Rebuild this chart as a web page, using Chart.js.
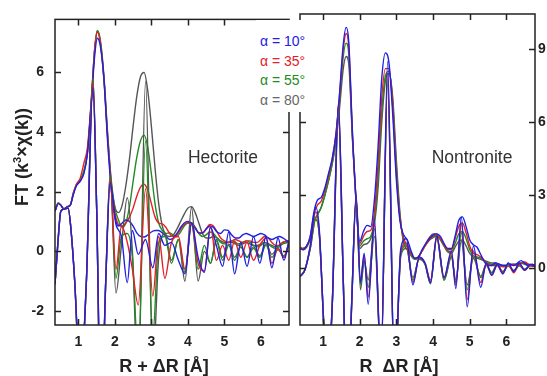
<!DOCTYPE html>
<html>
<head>
<meta charset="utf-8">
<script src="https://cdn.jsdelivr.net/npm/chart.js@4.4.1/dist/chart.umd.min.js"></script>
<style>
  body { margin: 0; background: #fff; width: 547px; height: 376px; overflow: hidden; position: relative;
         font-family: "Liberation Sans", Arial, sans-serif; }
  canvas { position: absolute; top: 0; }
  #cH { left: 0; }
  #cN { left: 295px; }
  .txt { position: absolute; white-space: nowrap; color: #222; }
  .axt { font-weight: bold; font-size: 18px; transform: translate(-50%, -50%); }
  #ytitle { left: 22px; top: 157px; transform: translate(-50%, -50%) rotate(-90deg); }
  #ytitle sup { font-size: 11px; vertical-align: 7px; }
  .name { font-size: 17.5px; transform: translate(-50%, -50%); color: #333; }
  #legend { position: absolute; left: 256px; top: 20px; width: 57px; height: 92px; background: #fff;
            padding-top: 12px; box-sizing: border-box; font-size: 14px; }
  #legend div { line-height: 19.5px; padding-left: 4px; }
</style>
</head>
<body>
<canvas id="cH" width="295" height="376"></canvas>
<canvas id="cN" width="252" height="376"></canvas>
<div class="txt axt" id="ytitle">FT (k<sup>3</sup>×χ(k))</div>
<div class="txt axt" style="left:164px;top:366px">R + ΔR [Å]</div>
<div class="txt axt" style="left:399px;top:366px">R&nbsp;&nbsp;ΔR [Å]</div>
<div class="txt name" style="left:223px;top:157px">Hectorite</div>
<div class="txt name" style="left:472px;top:157px">Nontronite</div>
<div id="legend">
  <div style="color:#2020e0">α = 10°</div>
  <div style="color:#e42026">α = 35°</div>
  <div style="color:#228b22">α = 55°</div>
  <div style="color:#666">α = 80°</div>
</div>
<script>
const angles = ['10', '35', '55', '80'];
const colors = ['#2020e0', '#e42026', '#228b22', '#555555'];

// Hectorite: |FT| on a common R grid
const hecR = [0.36, 0.45, 0.52, 0.6, 0.7, 0.78, 0.86, 0.95, 1.05, 1.15, 1.25, 1.35, 1.45, 1.52, 1.6, 1.7, 1.8, 1.9,
  2.0, 2.1, 2.2, 2.3, 2.4, 2.5, 2.6, 2.7, 2.8, 2.9, 3.0, 3.1, 3.2, 3.3, 3.4, 3.5, 3.6, 3.7, 3.8, 3.9,
  4.0, 4.1, 4.2, 4.3, 4.4, 4.5, 4.6, 4.7, 4.8, 4.9, 5.0, 5.1, 5.2, 5.3, 5.4, 5.5, 5.6, 5.7, 5.8, 5.9,
  6.0, 6.1, 6.2, 6.3, 6.4, 6.5, 6.6, 6.77];
const hecMag10 = [1.35, 1.6, 1.55, 1.42, 1.5, 1.55, 1.9, 2.2, 2.35, 2.6, 3.3, 4.9, 6.6, 7.15, 6.9, 5.8, 3.7, 2.1,
  1.15, 0.85, 0.95, 1.05, 1.0, 0.85, 0.62, 0.5, 0.48, 0.55, 0.65, 0.7, 0.7, 0.62, 0.5, 0.4, 0.45, 0.6, 0.8, 0.95,
  1.0, 0.95, 0.78, 0.62, 0.62, 0.75, 0.85, 0.8, 0.65, 0.6, 0.72, 0.7, 0.55, 0.45, 0.45, 0.55, 0.6, 0.55, 0.5, 0.55,
  0.6, 0.55, 0.45, 0.4, 0.45, 0.5, 0.45, 0.3];
const hecMag35 = [1.35, 1.6, 1.55, 1.42, 1.5, 1.55, 1.95, 2.25, 2.45, 2.95, 3.5, 5.0, 6.8, 7.35, 7.0, 5.75, 3.85, 2.25,
  1.3, 0.9, 0.85, 0.95, 1.15, 1.45, 1.85, 2.15, 2.25, 2.05, 1.6, 1.15, 0.95, 0.92, 0.8, 0.6, 0.5, 0.55, 0.75, 0.9,
  0.95, 0.95, 0.8, 0.62, 0.6, 0.75, 0.9, 0.85, 0.65, 0.45, 0.35, 0.3, 0.35, 0.4, 0.35, 0.3, 0.35, 0.35, 0.3, 0.3,
  0.4, 0.5, 0.45, 0.3, 0.2, 0.2, 0.3, 0.35];
const hecMag55 = [1.35, 1.62, 1.55, 1.42, 1.5, 1.55, 1.95, 2.25, 2.4, 2.7, 3.35, 5.0, 6.85, 7.4, 7.05, 5.8, 3.9, 2.3,
  1.45, 1.05, 0.8, 0.95, 1.5, 2.35, 3.15, 3.7, 3.9, 3.5, 2.6, 1.6, 0.95, 0.7, 0.6, 0.62, 0.55, 0.5, 0.65, 0.85,
  0.95, 0.95, 0.8, 0.6, 0.5, 0.55, 0.65, 0.6, 0.45, 0.3, 0.25, 0.3, 0.35, 0.3, 0.25, 0.3, 0.35, 0.3, 0.2, 0.15,
  0.2, 0.3, 0.25, 0.15, 0.1, 0.15, 0.25, 0.3];
const hecMag80 = [1.35, 1.62, 1.55, 1.42, 1.5, 1.55, 1.9, 2.25, 2.4, 2.65, 3.3, 4.9, 6.8, 7.4, 7.1, 5.9, 4.0, 2.4,
  1.5, 1.3, 1.55, 2.2, 3.1, 4.2, 5.2, 5.85, 6.0, 5.4, 4.2, 2.8, 1.6, 0.85, 0.55, 0.5, 0.55, 0.75, 1.0, 1.25,
  1.45, 1.5, 1.3, 0.95, 0.6, 0.45, 0.45, 0.5, 0.45, 0.35, 0.3, 0.3, 0.3, 0.25, 0.2, 0.25, 0.3, 0.25, 0.2, 0.2,
  0.25, 0.3, 0.25, 0.2, 0.15, 0.2, 0.3, 0.35];

// Hectorite: Im(FT), turning points
const hecImR = [0.36, 0.44, 0.52, 0.62, 0.72, 0.8, 0.9, 1.05, 1.22, 1.4,
  1.5, 1.62, 1.75, 1.87, 2.03, 2.18, 2.34, 2.48, 2.64, 2.84,
  3.04, 3.2, 3.37, 3.55, 3.74, 3.92, 4.1, 4.28, 4.45, 4.62,
  4.78, 4.95, 5.12, 5.28, 5.45, 5.62, 5.8, 5.97, 6.14, 6.3,
  6.47, 6.63, 6.77];
const hecIm10 = [-1.1, 0.3, 1.35, 1.42, 1.45, 0.7, -1.0, -4.2, -1.0, 5.5,
  1.5, -5.5, -1.0, 2.3, 0.9, 0.5, -1.05, 0.7, -0.1, 0.4,
  -0.55, 0.6, 0.2, 0.3, -0.3, -0.75, 0.95, -0.2, -0.7, 0.8,
  0.2, -0.5, 0.65, -0.75, 0.3, -0.5, 0.5, -0.4, 0.5, -0.55,
  0.45, -0.3, 0.35];
const hecIm35 = [-1.1, 0.3, 1.35, 1.42, 1.45, 0.7, -1.0, -4.4, -1.0, 5.7,
  1.5, -5.8, -1.0, 2.4, -0.6, 0.85, 0.3, -0.6, -1.8, 2.1,
  -1.5, 0.5, -0.9, 0.3, 0.5, -0.6, 0.9, -0.4, -0.65, 0.85,
  -0.3, 0.2, -0.3, 0.35, -0.2, 0.3, -0.3, 0.2, 0.45, -0.4,
  0.1, -0.2, 0.3];
const hecIm55 = [-1.1, 0.3, 1.35, 1.42, 1.45, 0.7, -1.0, -4.5, -1.0, 5.8,
  1.5, -6.0, -1.0, 2.5, -0.9, 0.5, 0.6, -0.2, -3.5, 3.7,
  -2.8, 0.3, 0.5, -0.4, 0.4, -0.7, 0.95, -0.6, 0.2, -0.4,
  0.35, -0.3, 0.2, -0.3, 0.15, -0.2, 0.1, -0.2, 0.2, -0.2,
  0.05, -0.15, 0.25];
const hecIm80 = [-1.1, 0.3, 1.35, 1.42, 1.45, 0.7, -1.0, -4.5, -1.0, 5.8,
  1.5, -6.0, -1.0, 2.6, -1.4, 0.2, 1.8, 0.0, -4.5, 5.7,
  -3.8, -0.2, 0.6, -0.3, 0.4, -1.0, 1.48, -1.0, 0.0, -0.4,
  0.4, -0.2, 0.25, -0.2, 0.15, -0.2, 0.15, -0.15, 0.25, -0.1,
  0.1, -0.2, 0.3];

// Nontronite: |FT|
const ntR = [0.37, 0.45, 0.55, 0.65, 0.75, 0.85, 0.95, 1.05, 1.15, 1.25, 1.35, 1.45, 1.55, 1.63, 1.7, 1.8, 1.9,
  2.0, 2.1, 2.2, 2.3, 2.4, 2.5, 2.6, 2.7, 2.8, 2.9, 3.0, 3.1, 3.2, 3.3, 3.4, 3.5, 3.6, 3.7, 3.8, 3.9,
  4.0, 4.1, 4.2, 4.3, 4.4, 4.5, 4.6, 4.7, 4.8, 4.9, 5.0, 5.1, 5.2, 5.3, 5.4, 5.5, 5.6, 5.7, 5.8, 5.9,
  6.0, 6.1, 6.2, 6.3, 6.4, 6.5, 6.6, 6.7, 6.78];
const ntMag10 = [0.8, 0.75, 0.9, 1.3, 2.3, 2.8, 2.9, 3.3, 3.9, 4.5, 5.5, 7.2, 9.2, 9.9, 9.3, 5.6, 2.8,
  1.1, 1.5, 1.75, 1.7, 2.8, 5.0, 7.8, 8.85, 8.4, 6.3, 3.6, 1.9, 1.35, 1.15, 0.7, 0.4, 0.45, 0.75, 1.0, 1.2,
  1.35, 1.4, 1.3, 1.0, 0.8, 0.8, 1.3, 1.95, 2.1, 1.7, 1.15, 0.95, 0.85, 0.55, 0.25, 0.1, 0.1, 0.2, 0.15, 0.1,
  0.1, 0.15, 0.1, 0.2, 0.3, 0.2, 0.1, 0.15, 0.1];
const ntMag35 = [0.85, 0.8, 0.9, 1.3, 2.2, 2.6, 2.75, 3.2, 3.8, 4.5, 5.5, 7.1, 9.0, 9.65, 9.1, 5.5, 2.7,
  1.0, 1.3, 1.5, 1.55, 2.3, 4.3, 7.0, 8.2, 8.2, 6.6, 3.8, 2.0, 1.2, 0.95, 0.6, 0.4, 0.45, 0.7, 0.95, 1.15,
  1.3, 1.35, 1.2, 0.95, 0.75, 0.75, 1.2, 1.7, 1.85, 1.45, 0.9, 0.6, 0.55, 0.45, 0.3, 0.15, 0.1, 0.1, 0.1, 0.05,
  0.05, 0.1, 0.15, 0.1, 0.2, 0.25, 0.15, 0.1, 0.1];
const ntMag55 = [0.85, 0.8, 0.9, 1.2, 1.9, 2.2, 2.5, 3.0, 3.6, 4.3, 5.3, 6.9, 8.7, 9.25, 8.8, 5.4, 2.7,
  0.9, 1.1, 1.2, 1.3, 2.0, 3.8, 6.4, 7.9, 8.1, 6.8, 4.1, 2.1, 1.1, 0.85, 0.55, 0.35, 0.45, 0.7, 0.95, 1.15,
  1.25, 1.3, 1.15, 0.9, 0.7, 0.65, 1.0, 1.4, 1.5, 1.2, 0.75, 0.5, 0.45, 0.4, 0.3, 0.2, 0.15, 0.15, 0.1, 0.1,
  0.1, 0.15, 0.1, 0.15, 0.2, 0.2, 0.15, 0.1, 0.1];
const ntMag80 = [0.8, 0.75, 0.85, 1.2, 1.9, 2.2, 2.5, 3.0, 3.6, 4.3, 5.2, 6.6, 8.2, 8.7, 8.4, 5.3, 2.7,
  0.8, 0.95, 1.0, 1.2, 1.8, 3.3, 6.0, 7.7, 8.0, 7.0, 4.4, 2.2, 1.0, 0.75, 0.5, 0.35, 0.45, 0.7, 1.0, 1.25,
  1.4, 1.4, 1.2, 0.9, 0.65, 0.6, 0.85, 1.1, 1.15, 0.9, 0.6, 0.45, 0.4, 0.35, 0.3, 0.25, 0.2, 0.2, 0.15, 0.1,
  0.1, 0.15, 0.15, 0.15, 0.2, 0.15, 0.1, 0.1, 0.1];

// Nontronite: Im(FT), turning points
const ntImR = [0.37, 0.5, 0.65, 0.8, 0.9, 1.0, 1.1, 1.25, 1.42, 1.55,
  1.66, 1.78, 1.9, 2.02, 2.12, 2.23, 2.4, 2.58, 2.76, 2.95,
  3.12, 3.27, 3.45, 3.62, 3.78, 3.93, 4.1, 4.3, 4.5, 4.62,
  4.77, 4.93, 5.1, 5.3, 5.45, 5.6, 5.75, 5.9, 6.05, 6.2,
  6.35, 6.5, 6.65, 6.78];
const ntIm10 = [-0.35, -0.1, 0.9, 2.5, 1.5, -1.8, -5.0, -1.5, 6.8, -0.5,
  -6.5, -1.5, 3.0, -0.6, 0.6, -1.5, 2.0, -4.0, 8.5, -5.0,
  0.8, 1.2, -0.7, 0.45, 0.2, -0.6, 1.3, -0.4, 0.7, -0.85,
  2.1, -1.6, 0.9, -0.8, 0.2, -0.3, 0.15, -0.25, 0.2, -0.15,
  0.2, -0.1, 0.15, 0.05];
const ntIm35 = [-0.35, -0.1, 0.9, 2.3, 1.4, -1.8, -5.0, -1.5, 6.7, -0.5,
  -6.3, -1.5, 2.9, -0.5, 0.5, -1.2, 1.8, -4.0, 8.0, -5.0,
  0.7, 1.0, -0.6, 0.4, 0.2, -0.5, 1.25, -0.4, 0.6, -0.7,
  1.8, -1.3, 0.7, -0.6, 0.15, -0.3, 0.1, -0.2, 0.15, -0.2,
  0.15, -0.1, 0.1, 0.05];
const ntIm55 = [-0.35, -0.1, 0.8, 2.0, 1.3, -1.7, -4.8, -1.5, 6.5, -0.5,
  -6.0, -1.4, 2.8, -0.7, 0.3, -0.8, 1.3, -3.8, 7.8, -4.8,
  0.6, 0.9, -0.5, 0.4, 0.15, -0.6, 1.2, -0.5, 0.5, -0.6,
  1.45, -0.9, 0.5, -0.4, 0.1, -0.2, 0.15, -0.2, 0.1, -0.15,
  0.1, -0.1, 0.1, 0.05];
const ntIm80 = [-0.35, -0.1, 0.8, 2.0, 1.3, -1.7, -4.8, -1.5, 6.2, -0.5,
  -5.8, -1.4, 2.8, -0.9, 0.3, -0.5, 1.6, -3.6, 7.6, -4.6,
  0.5, 0.8, -0.4, 0.35, 0.15, -0.65, 1.35, -0.5, 0.45, -0.5,
  1.1, -0.7, 0.4, -0.35, 0.15, -0.2, 0.15, -0.15, 0.1, -0.1,
  0.1, -0.05, 0.1, 0.05];

const hecMag = [hecMag10, hecMag35, hecMag55, hecMag80];
const hecIm = [hecIm10, hecIm35, hecIm55, hecIm80];
const ntMag = [ntMag10, ntMag35, ntMag55, ntMag80];
const ntIm = [ntIm10, ntIm35, ntIm55, ntIm80];

function line(xs, ys, color, label) {
  return {
    label: label,
    data: xs.map((x, i) => ({ x: x, y: ys[i] })),
    borderColor: color,
    borderWidth: 1.4,
    pointRadius: 0,
    cubicInterpolationMode: 'monotone',
    fill: false
  };
}

function buildSets(magR, mags, imR, ims) {
  const sets = [];
  angles.forEach((a, i) => sets.push(line(imR, ims[i], colors[i], 'Im ' + a)));
  angles.forEach((a, i) => sets.push(line(magR, mags[i], colors[i], '|FT| ' + a)));
  return sets;
}

// box around the plot with inward ticks on every side
const frame = {
  id: 'frame',
  afterDatasetsDraw(chart) {
    const { ctx, chartArea: a, scales } = chart;
    const t = 6;
    ctx.save();
    ctx.strokeStyle = '#222';
    ctx.lineWidth = 1.5;
    ctx.beginPath();
    scales.x.ticks.forEach(tk => {
      const p = Math.round(scales.x.getPixelForValue(tk.value)) + 0.5;
      ctx.moveTo(p, a.bottom); ctx.lineTo(p, a.bottom - t);
      ctx.moveTo(p, a.top); ctx.lineTo(p, a.top + t);
    });
    scales.y.ticks.forEach(tk => {
      const p = Math.round(scales.y.getPixelForValue(tk.value)) + 0.5;
      ctx.moveTo(a.left, p); ctx.lineTo(a.left + t, p);
      ctx.moveTo(a.right, p); ctx.lineTo(a.right - t, p);
    });
    ctx.stroke();
    ctx.strokeRect(a.left, a.top, a.right - a.left, a.bottom - a.top);
    ctx.restore();
  }
};

function makeChart(id, sets, xMin, xMax, yMin, yMax, yStep, yPos, yWidth, pad) {
  const tickFont = { family: '"Liberation Sans", Arial, sans-serif', size: 14, weight: 'bold' };
  return new Chart(document.getElementById(id), {
    type: 'line',
    data: { datasets: sets },
    options: {
      responsive: false,
      animation: false,
      events: [],
      layout: { padding: pad },
      plugins: { legend: { display: false }, tooltip: { enabled: false } },
      scales: {
        x: {
          type: 'linear', min: xMin, max: xMax,
          grid: { display: false, drawTicks: false },
          border: { display: false },
          ticks: { stepSize: 1, includeBounds: false, padding: 9, color: '#222', font: tickFont, maxRotation: 0 },
          afterFit: s => { s.height = 51; }
        },
        y: {
          type: 'linear', position: yPos, min: yMin, max: yMax,
          grid: { display: false, drawTicks: false },
          border: { display: false },
          ticks: { stepSize: yStep, includeBounds: false, padding: yPos === 'left' ? 11 : 3, color: '#222', font: tickFont },
          afterFit: s => { s.width = yWidth; }
        }
      }
    },
    plugins: [frame]
  });
}

makeChart('cH', buildSets(hecR, hecMag, hecImR, hecIm), 0.36, 6.77, -2.47, 7.78, 2, 'left', 55,
  { left: 0, top: 14, right: 6, bottom: 0 });
makeChart('cN', buildSets(ntR, ntMag, ntImR, ntIm), 0.37, 6.78, -2.35, 10.45, 3, 'right', 12,
  { left: 5, top: 14, right: 0, bottom: 0 });
</script>
</body>
</html>
